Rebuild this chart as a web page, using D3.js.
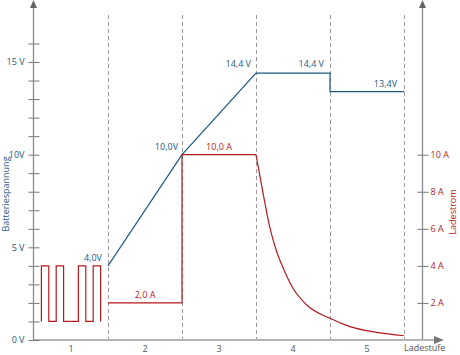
<!DOCTYPE html>
<html>
<head>
<meta charset="utf-8">
<script src="https://cdn.jsdelivr.net/npm/d3@7"></script>
<style>
  body { margin: 0; background: #fff; }
  svg { font-family: "Open Sans", sans-serif; }
</style>
</head>
<body>
<svg></svg>
<script>
// data
const stages = [1, 2, 3, 4, 5];

const voltStage = [1, 2, 3, 4, 4, 5];
const voltValue = [4.0, 10.0, 14.4, 14.4, 13.4, 13.4];

const pulseEdges = [0.1, 0.2, 0.3, 0.4, 0.6, 0.7, 0.8, 0.9];
const pulseLevels = [1, 4];

const currStage = [1, 2, 2, 3];
const currValue = [2, 2, 10, 10];

const decayStage = [3.0, 3.1, 3.19, 3.28, 3.37, 3.5, 3.685, 4.0, 4.27, 4.63, 5.0];
const decayValue = [10, 7.82, 6.02, 4.76, 3.86, 2.79, 1.89, 1.17, 0.72, 0.41, 0.23];

const voltTicks = d3.range(1, 17);
const voltLabels = { 0: "0 V", 5: "5 V", 10: "10V", 15: "15 V" };
const ampTicks = [2, 4, 6, 8, 10];

const voltNotes = [
  { s: 1, v: 4.0, text: "4,0V", dx: -6, dy: -5 },
  { s: 2, v: 10.0, text: "10,0V", dx: -4, dy: -5 },
  { s: 3, v: 14.4, text: "14,4 V", dx: -5, dy: -6 },
  { s: 4, v: 14.4, text: "14,4 V", dx: -6, dy: -6 },
  { s: 5, v: 13.4, text: "13,4V", dx: -7, dy: -5 }
];
const ampNotes = [
  { s: 1.5, a: 2.0, text: "2,0 A" },
  { s: 2.5, a: 10.0, text: "10,0 A" }
];

const blue = "#1d5a80";
const red = "#b5191e";
const grey = "#8a8a8a";

// layout
const width = 460, height = 355;
const svg = d3.select("svg").attr("width", width).attr("height", height);

// scales
const x = d3.scaleLinear().domain([0, 5]).range([34, 404]);
const yV = d3.scaleLinear().domain([0, 15]).range([340, 62]);
const yA = d3.scaleLinear().domain([0, 10]).range([340, 154.7]);

// stage dividers
svg.append("g").selectAll("line")
  .data(stages)
  .enter().append("line")
    .attr("x1", d => Math.round(x(d)) + 0.5)
    .attr("x2", d => Math.round(x(d)) + 0.5)
    .attr("y1", 15)
    .attr("y2", yV(0))
    .attr("stroke", "#9a9a9a")
    .attr("stroke-dasharray", "4,3");

// bottom axis
svg.append("line")
  .attr("x1", x(0)).attr("x2", 436)
  .attr("y1", yV(0)).attr("y2", yV(0))
  .attr("stroke", "#b4b4b4")
  .attr("stroke-width", 2);
svg.append("path")
  .attr("d", `M444,${yV(0)} L434,${yV(0) - 4} L434,${yV(0) + 4} Z`)
  .attr("fill", "#777");

svg.append("g").selectAll("text")
  .data(stages)
  .enter().append("text")
    .attr("x", d => x(d - 0.5))
    .attr("y", 352)
    .attr("text-anchor", "middle")
    .attr("font-size", 9)
    .attr("fill", "#555")
    .text(d => d);

svg.append("text")
  .attr("x", 404)
  .attr("y", 351)
  .attr("font-size", 9)
  .attr("fill", "#555")
  .text("Ladestufe");

// left axis
const gLeft = svg.append("g")
  .attr("transform", `translate(${x(0) - 0.5},0)`)
  .call(d3.axisLeft(yV)
    .tickValues([0].concat(voltTicks))
    .tickSize(5)
    .tickPadding(4)
    .tickFormat(d => voltLabels[d] || ""));
gLeft.select(".domain").remove();
gLeft.selectAll(".tick line")
  .attr("x1", -5).attr("x2", 6)
  .attr("stroke", "#777");
gLeft.selectAll(".tick text")
  .attr("fill", blue)
  .attr("font-size", 9)
  .attr("font-family", "Open Sans, sans-serif");
gLeft.append("line")
  .attr("y1", yV(0)).attr("y2", 6)
  .attr("stroke", grey).attr("stroke-width", 1.3);
gLeft.append("path")
  .attr("d", "M0,0 L-3.5,8 L3.5,8 Z")
  .attr("fill", "#666");

svg.append("text")
  .attr("transform", `translate(9,194) rotate(-90)`)
  .attr("text-anchor", "middle")
  .attr("font-size", 9)
  .attr("fill", blue)
  .text("Batteriespannung");

// right axis
const gRight = svg.append("g")
  .attr("transform", "translate(422.5,0)")
  .call(d3.axisRight(yA)
    .tickValues(ampTicks)
    .tickSize(6)
    .tickPadding(2)
    .tickFormat(d => d + " A"));
gRight.select(".domain").remove();
gRight.selectAll(".tick line")
  .attr("x1", -5).attr("x2", 6)
  .attr("stroke", "#777");
gRight.selectAll(".tick text")
  .attr("fill", red)
  .attr("font-size", 9)
  .attr("font-family", "Open Sans, sans-serif");
gRight.append("line")
  .attr("y1", yV(0) - 1).attr("y2", 6)
  .attr("stroke", grey).attr("stroke-width", 1.3);
gRight.append("path")
  .attr("d", "M0,0 L-3.5,8 L3.5,8 Z")
  .attr("fill", "#666");

svg.append("text")
  .attr("transform", `translate(456,212) rotate(-90)`)
  .attr("text-anchor", "middle")
  .attr("font-size", 9)
  .attr("fill", red)
  .text("Ladestrom");

// voltage line
const voltLine = d3.line()
  .x(d => x(d[0]))
  .y(d => yV(d[1]));
svg.append("path")
  .datum(voltStage.map((s, i) => [s, voltValue[i]]))
  .attr("d", voltLine)
  .attr("fill", "none")
  .attr("stroke", blue)
  .attr("stroke-width", 1.2);

// current: pulses in stage 1
const pulsePts = [];
pulseEdges.forEach((e, i) => {
  pulsePts.push([e, pulseLevels[i % 2]]);
  pulsePts.push([e, pulseLevels[(i + 1) % 2]]);
});
const ampLine = d3.line()
  .x(d => x(d[0]))
  .y(d => yA(d[1]));
svg.append("path")
  .datum(pulsePts)
  .attr("d", ampLine)
  .attr("fill", "none")
  .attr("stroke", red)
  .attr("stroke-width", 1.2);

// current: constant phases
svg.append("path")
  .datum(currStage.map((s, i) => [s, currValue[i]]))
  .attr("d", ampLine)
  .attr("fill", "none")
  .attr("stroke", red)
  .attr("stroke-width", 1.2);

// current: decay
svg.append("path")
  .datum(decayStage.map((s, i) => [s, decayValue[i]]))
  .attr("d", ampLine.curve(d3.curveMonotoneX))
  .attr("fill", "none")
  .attr("stroke", red)
  .attr("stroke-width", 1.2);

// value notes
svg.append("g").selectAll("text")
  .data(voltNotes)
  .enter().append("text")
    .attr("x", d => x(d.s) + d.dx)
    .attr("y", d => yV(d.v) + d.dy)
    .attr("text-anchor", "end")
    .attr("font-size", 9)
    .attr("fill", blue)
    .text(d => d.text);

svg.append("g").selectAll("text")
  .data(ampNotes)
  .enter().append("text")
    .attr("x", d => x(d.s))
    .attr("y", d => yA(d.a) - 5)
    .attr("text-anchor", "middle")
    .attr("font-size", 9)
    .attr("fill", red)
    .text(d => d.text);
</script>
</body>
</html>
